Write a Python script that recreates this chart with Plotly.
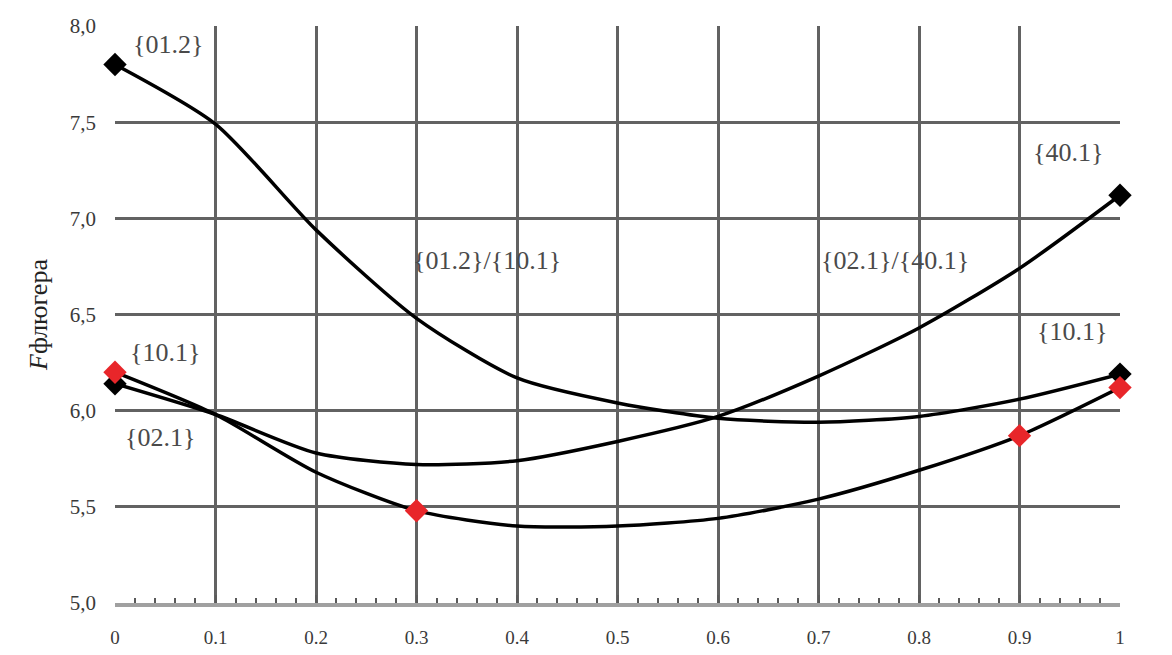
import plotly.graph_objects as go

# Параметр по оси абсцисс
x_vals = [0, 0.1, 0.2, 0.3, 0.4, 0.5, 0.6, 0.7, 0.8, 0.9, 1.0]

# Кривая {01.2}/{10.1}
curve_a = [7.80, 7.49, 6.94, 6.48, 6.17, 6.04, 5.96, 5.94, 5.97, 6.06, 6.19]
# Кривая {02.1}/{40.1}
curve_b = [6.14, 5.98, 5.78, 5.72, 5.74, 5.84, 5.97, 6.18, 6.43, 6.74, 7.12]
# Кривая {10.1}/{02.1}
curve_c = [6.20, 5.98, 5.68, 5.48, 5.40, 5.40, 5.44, 5.54, 5.69, 5.87, 6.12]

# Индексы отмеченных точек
marks_a = [0, 10]
marks_b = [0, 10]
marks_c = [0, 3, 9, 10]

x_ticks = [0, 0.1, 0.2, 0.3, 0.4, 0.5, 0.6, 0.7, 0.8, 0.9, 1.0]
x_tick_text = ["0", "0.1", "0.2", "0.3", "0.4", "0.5", "0.6", "0.7", "0.8", "0.9", "1"]
y_ticks = [5.0, 5.5, 6.0, 6.5, 7.0, 7.5, 8.0]
y_tick_text = ["5,0", "5,5", "6,0", "6,5", "7,0", "7,5", "8,0"]

# Подписи точек: (x, y, текст)
labels = [
    (0.053, 7.905, "{01.2}"),
    (0.050, 6.30, "{10.1}"),
    (0.045, 5.86, "{02.1}"),
    (0.370, 6.78, "{01.2}/{10.1}"),
    (0.776, 6.78, "{02.1}/{40.1}"),
    (0.948, 7.34, "{40.1}"),
    (0.952, 6.41, "{10.1}"),
    (1.012, 5.88, "{02.1}"),
]

serif = "Liberation Serif"
fig = go.Figure()

for ys in (curve_a, curve_b, curve_c):
    fig.add_trace(go.Scatter(
        x=x_vals, y=ys, mode="lines",
        line=dict(color="black", width=3.5, shape="spline", smoothing=0.7),
        showlegend=False, hoverinfo="skip",
    ))

for ys, idx, col in ((curve_a, marks_a, "black"), (curve_b, marks_b, "black"),
                     (curve_c, marks_c, "#e8262a")):
    fig.add_trace(go.Scatter(
        x=[x_vals[i] for i in idx], y=[ys[i] for i in idx], mode="markers",
        marker=dict(symbol="diamond", size=18, color=col),
        showlegend=False, hoverinfo="skip", cliponaxis=False,
    ))

for lx, ly, txt in labels:
    fig.add_annotation(x=lx, y=ly, text=txt, showarrow=False,
                       font=dict(family=serif, size=26, color="#4a4a4a"))

fig.update_layout(
    width=1172, height=655,
    margin=dict(l=115, r=52, t=26, b=52),
    paper_bgcolor="white", plot_bgcolor="white",
    xaxis=dict(
        range=[0, 1], tickvals=x_ticks, ticktext=x_tick_text,
        automargin=False,
        showgrid=True, gridcolor="#626262", gridwidth=3,
        zeroline=False, showline=True, linecolor="#a0a0a0", linewidth=4,
        ticks="inside", ticklen=8, tickcolor="#5a5a5a", tickwidth=2,
        minor=dict(dtick=0.02, ticks="inside", ticklen=5, tickcolor="#5a5a5a", showgrid=False),
        ticklabelstandoff=14,
        tickfont=dict(family=serif, size=19, color="#3a3a3a"),
    ),
    yaxis=dict(
        range=[5, 8], tickvals=y_ticks, ticktext=y_tick_text,
        automargin=False,
        showgrid=True, gridcolor="#626262", gridwidth=3,
        zeroline=False, showline=False,
        ticklabelstandoff=18,
        tickfont=dict(family=serif, size=21, color="#3a3a3a"),
        title=dict(text="<i>F</i>флюгера", standoff=14,
                   font=dict(family=serif, size=26, color="#222222")),
    ),
)

fig.write_html("out.html")
